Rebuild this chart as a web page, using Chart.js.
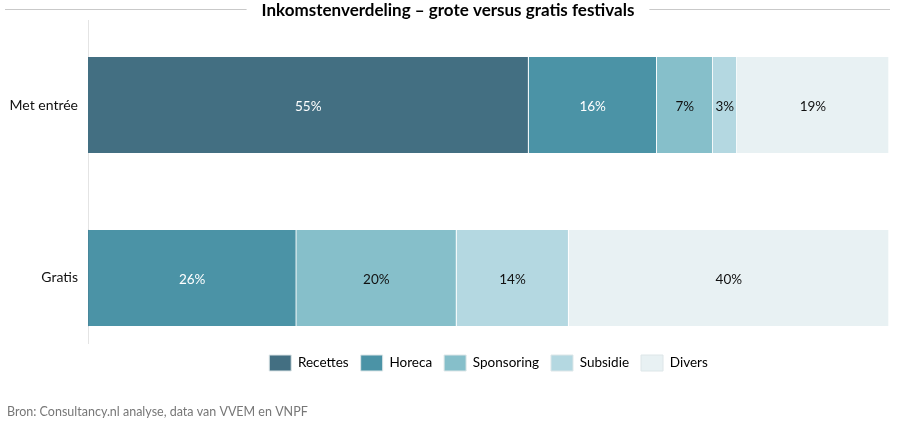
<!DOCTYPE html>
<html>
<head>
<meta charset="utf-8">
<script src="https://cdn.jsdelivr.net/npm/chart.js@4"></script>
<style>
  html, body { margin: 0; padding: 0; background: #fff; }
  #wrap { width: 900px; height: 426px; }
</style>
</head>
<body>
<div id="wrap"><canvas id="income-chart"></canvas></div>
<script>
// data
var categories = ['Met entrée', 'Gratis'],
    seriesNames = ['Recettes', 'Horeca', 'Sponsoring', 'Subsidie', 'Divers'],
    recettes = [55, 0],
    horeca = [16, 26],
    sponsoring = [7, 20],
    subsidie = [3, 14],
    divers = [19, 40];

var seriesValues = [recettes, horeca, sponsoring, subsidie, divers],
    seriesColors = ['#436f82', '#4b93a6', '#86bfca', '#b4d8e1', '#e8f1f3'],
    labelColors = ['#ffffff', '#ffffff', '#111111', '#111111', '#111111'];

// title with thin lines on both sides
var titleLines = {
  id: 'titleLines',
  afterDraw: function(chart) {
    var t = chart.titleBlock, ctx = chart.ctx;
    ctx.save();
    ctx.font = Chart.helpers.toFont(t.options.font).string;
    var w = ctx.measureText(t.options.text).width,
        cx = (t.left + t.right) / 2,
        y = 9.5;
    ctx.strokeStyle = '#c9c9c9';
    ctx.lineWidth = 1;
    ctx.beginPath();
    ctx.moveTo(5, y); ctx.lineTo(cx - w / 2 - 15, y);
    ctx.moveTo(cx + w / 2 + 15, y); ctx.lineTo(890, y);
    ctx.stroke();
    ctx.restore();
  }
};

// percentages inside the segments
var barLabels = {
  id: 'barLabels',
  afterDatasetsDraw: function(chart) {
    var ctx = chart.ctx;
    ctx.save();
    ctx.font = '13.5px Lato';
    ctx.textAlign = 'center';
    ctx.textBaseline = 'middle';
    chart.data.datasets.forEach(function(ds, di) {
      chart.getDatasetMeta(di).data.forEach(function(bar, i) {
        var v = seriesValues[di][i];
        if (!v) return;
        var p = bar.getProps(['x', 'y', 'base'], true);
        ctx.fillStyle = labelColors[di];
        ctx.fillText(v + '%', (p.x + p.base) / 2, p.y + 1.5);
      });
    });
    ctx.restore();
  }
};

var datasets = seriesNames.map(function(name, si) {
  return {
    label: name,
    data: seriesValues[si].map(function(v, i) { return { x: v, y: i }; }),
    backgroundColor: seriesColors[si],
    borderColor: '#ffffff',
    borderWidth: { top: 0, bottom: 0, left: 0, right: 1 },
    borderSkipped: false,
    barThickness: 96
  };
});

var ctx = document.getElementById('income-chart').getContext('2d'),
    incomeChart = new Chart(ctx, {
      type: 'bar',
      data: { datasets: datasets },
      options: {
        indexAxis: 'y',
        responsive: true,
        maintainAspectRatio: false,
        animation: false,
        layout: { padding: { left: 7, right: 11, top: 0, bottom: 0 } },
        scales: {
          x: { display: false, stacked: true, min: 0, max: 100 },
          y: {
            type: 'linear',
            stacked: true,
            offset: false,
            reverse: true,
            min: -0.489,
            max: 1.376,
            grid: { display: false, drawTicks: false },
            border: { display: true, color: '#e4e4e4' },
            afterBuildTicks: function(scale) {
              scale.ticks = categories.map(function(c, i) { return { value: i }; });
            },
            afterFit: function(scale) { scale.width = 81; },
            ticks: {
              padding: 10,
              color: '#111',
              font: { family: 'Lato', size: 14 },
              callback: function(v) { return categories[v]; }
            }
          }
        },
        plugins: {
          title: {
            display: true,
            text: 'Inkomstenverdeling – grote versus gratis festivals',
            color: '#000',
            font: { family: 'Lato', size: 17, weight: 'bold' },
            padding: { top: 0, bottom: 0 }
          },
          subtitle: {
            display: true,
            position: 'bottom',
            align: 'start',
            text: 'Bron: Consultancy.nl analyse, data van VVEM en VNPF',
            color: '#777',
            font: { family: 'Lato', size: 12.5 },
            padding: { top: 23, bottom: 7 }
          },
          legend: {
            position: 'bottom',
            fullSize: false,
            labels: {
              boxWidth: 22,
              boxHeight: 16,
              padding: 12,
              color: '#111',
              font: { family: 'Lato', size: 13.5 },
              generateLabels: function(chart) {
                return seriesNames.map(function(name, i) {
                  return {
                    text: name,
                    fillStyle: seriesColors[i],
                    strokeStyle: '#dde6e8',
                    lineWidth: 1,
                    datasetIndex: i
                  };
                });
              }
            }
          },
          tooltip: { enabled: false }
        }
      },
      plugins: [titleLines, barLabels]
    });
</script>
</body>
</html>
